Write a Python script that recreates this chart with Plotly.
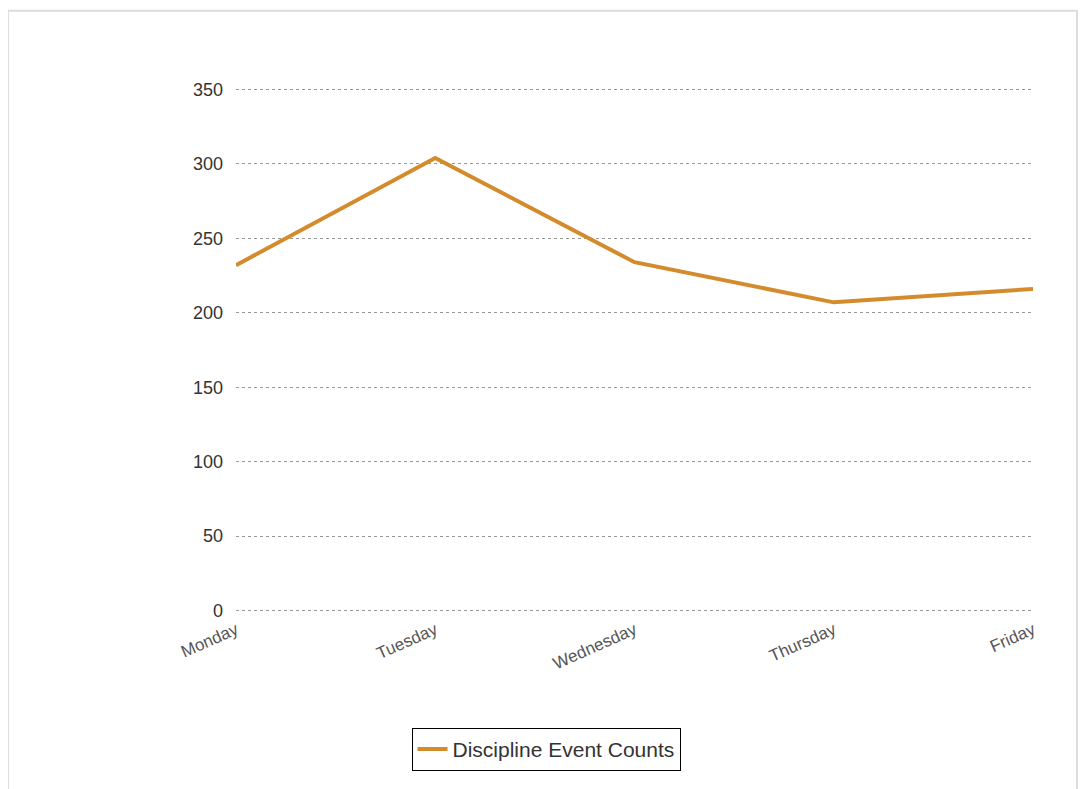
import plotly.graph_objects as go

days = ["Monday", "Tuesday", "Wednesday", "Thursday", "Friday"]
counts = [232, 304, 234, 207, 216]
y_ticks = [0, 50, 100, 150, 200, 250, 300, 350]

# page has an 8px body margin; work in figure coordinates
OFF = 8
W, H = 1086 - OFF, 789 - OFF
plot_left, plot_right = 236 - OFF, 1033 - OFF
y350, y0 = 89 - OFF, 611 - OFF
ymin, ymax = -1, 351
ppu = (y0 - y350) / 350.0
top_px = y350 - (ymax - 350) * ppu
bot_px = y0 + (0 - ymin) * ppu
L, R, T, B = plot_left, W - plot_right, top_px, H - bot_px
pw, ph = W - L - R, H - T - B


def px_x(p):
    return (p - OFF - L) / pw


def px_y(p):
    return (H - B - (p - OFF)) / ph


fig = go.Figure()
fig.add_trace(go.Scatter(
    x=days, y=counts, mode="lines", name="Discipline Event Counts",
    line=dict(color="#D38B2C", width=4),
))

fig.add_shape(type="rect", xref="paper", yref="paper",
              x0=px_x(8), x1=px_x(1077), y0=px_y(820), y1=px_y(10),
              line=dict(color="#DDDDDD", width=2), fillcolor="rgba(0,0,0,0)", layer="below")

fig.update_layout(
    width=W, height=H,
    margin=dict(l=L, r=R, t=T, b=B, autoexpand=False),
    paper_bgcolor="white", plot_bgcolor="white",
    font=dict(family="Liberation Sans, Arial, sans-serif", color="#333333"),
    showlegend=True,
    legend=dict(orientation="h", x=px_x(546), xanchor="center", y=px_y(750), yanchor="middle",
                bordercolor="#000000", borderwidth=1, font=dict(size=21, color="#333333")),
    xaxis=dict(range=[0, 4], showgrid=False, zeroline=False, showline=False,
               tickangle=-24, tickfont=dict(size=17, color="#555555"), ticks="", fixedrange=True,
               ticklabelstandoff=4),
    yaxis=dict(range=[ymin, ymax], tickvals=y_ticks, showgrid=True, gridcolor="#999999",
               griddash="dot", gridwidth=1, zeroline=False, showline=False,
               tickfont=dict(size=18, color="#333333"), ticks="", ticklabelstandoff=12),
)

fig.write_html("out.html")
